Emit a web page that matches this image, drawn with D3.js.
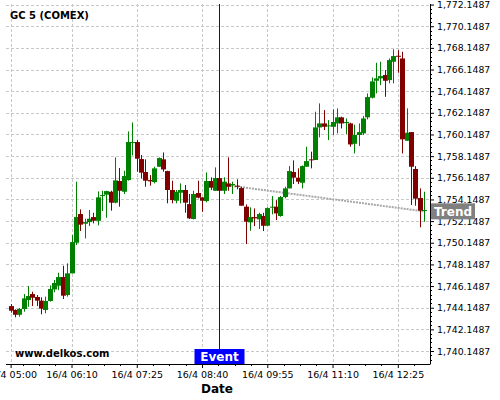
<!DOCTYPE html>
<html><head><meta charset="utf-8">
<script src="https://cdn.jsdelivr.net/npm/d3@7"></script>
<style>body{margin:0;background:#fff}svg{display:block;font-family:"DejaVu Sans",sans-serif}</style>
</head><body><svg id="c" width="500" height="400"></svg>
<script>
const chartTitle = "GC 5 (COMEX)";
const watermark = "www.delkos.com";
const xAxisTitle = "Date";
const startTime = [2024, 3, 16, 5, 0];
const intervalMinutes = 5;
const opens = [1744.30,1743.94,1743.50,1744.03,1744.86,1745.41,1745.14,1744.80,1743.94,1744.77,
1745.84,1746.18,1746.98,1745.32,1747.32,1750.15,1752.80,1751.91,1752.06,1752.52,
1752.18,1754.46,1754.59,1754.86,1753.85,1755.85,1754.86,1755.94,1759.39,1759.45,
1757.88,1756.68,1755.94,1755.75,1757.17,1757.85,1756.77,1755.02,1754.03,1754.77,
1755.02,1753.72,1752.34,1754.74,1754.34,1754.00,1755.85,1754.95,1756.12,1754.95,
1755.63,1755.45,1755.42,1755.20,1753.48,1752.03,1752.52,1752.31,1752.62,1751.72,
1753.42,1753.48,1752.62,1754.37,1755.17,1756.68,1756.16,1755.69,1757.17,1757.85,
1757.79,1760.80,1761.17,1760.93,1760.86,1761.17,1761.73,1761.20,1761.17,1759.29,
1760.10,1760.25,1761.73,1763.54,1765.11,1765.33,1765.64,1765.17,1766.87,1767.42,
1767.17,1759.57,1760.37,1756.96,1754.28,1753.11];
const highs = [1744.49,1744.00,1744.12,1745.41,1746.15,1745.63,1745.32,1745.11,1745.17,1746.21,
1746.71,1747.38,1748.03,1748.25,1750.86,1755.79,1753.23,1752.37,1753.17,1752.92,
1754.89,1754.95,1754.95,1754.95,1758.03,1757.05,1756.80,1760.43,1761.26,1759.63,
1758.25,1757.85,1756.40,1757.17,1758.03,1758.49,1756.80,1755.88,1755.02,1755.63,
1755.48,1754.65,1754.95,1755.88,1754.34,1756.65,1756.19,1757.11,1756.30,1756.19,
1758.03,1755.79,1756.00,1755.32,1753.69,1753.42,1753.32,1752.92,1752.92,1753.42,
1754.46,1754.09,1754.46,1755.32,1757.23,1757.76,1757.02,1757.29,1759.02,1758.56,
1762.25,1763.02,1762.40,1761.48,1762.47,1762.56,1761.79,1761.63,1761.23,1761.05,
1761.17,1761.85,1763.94,1765.42,1766.77,1766.87,1766.10,1767.17,1768.01,1767.94,
1767.79,1762.56,1760.37,1757.23,1755.17,1754.86];
const lows = [1743.69,1743.26,1743.32,1743.78,1744.24,1744.30,1744.30,1743.54,1743.63,1744.71,
1745.57,1745.78,1744.95,1745.17,1747.32,1749.94,1751.23,1750.55,1751.69,1751.94,
1751.75,1753.08,1752.46,1753.11,1753.79,1753.48,1754.65,1755.88,1758.22,1756.71,
1756.09,1755.32,1755.42,1755.63,1757.17,1756.71,1753.79,1753.79,1753.79,1753.79,
1752.92,1752.34,1752.31,1754.25,1753.01,1753.88,1755.02,1754.95,1754.70,1754.65,
1754.95,1754.65,1755.08,1753.57,1750.03,1751.26,1751.69,1751.42,1751.23,1751.69,
1752.77,1752.25,1752.55,1754.25,1755.17,1755.57,1755.57,1755.17,1757.17,1757.02,
1757.79,1759.88,1760.56,1759.63,1760.10,1760.25,1760.71,1760.19,1759.02,1758.40,
1759.08,1760.10,1761.54,1763.48,1763.94,1764.71,1763.63,1764.87,1764.87,1765.85,
1758.40,1759.57,1753.63,1753.57,1751.57,1752.09];
const closes = [1743.87,1743.50,1744.03,1745.01,1745.23,1745.07,1744.80,1744.06,1744.77,1745.88,
1746.43,1746.98,1745.26,1747.32,1750.21,1752.52,1751.82,1752.06,1752.37,1752.18,
1754.34,1754.55,1754.92,1753.85,1755.91,1754.95,1756.31,1759.45,1759.45,1757.91,
1756.62,1755.88,1755.82,1757.02,1757.97,1756.92,1755.02,1754.09,1754.86,1755.02,
1753.85,1752.40,1754.65,1754.31,1754.03,1755.85,1755.23,1756.12,1754.95,1755.79,
1755.32,1755.57,1755.32,1753.57,1752.09,1752.52,1752.40,1752.80,1751.72,1753.35,
1753.48,1752.86,1754.37,1755.17,1756.77,1756.16,1755.79,1757.23,1757.69,1757.79,
1760.80,1761.17,1760.86,1760.99,1761.30,1761.73,1761.17,1761.30,1759.23,1760.10,
1760.37,1761.63,1763.60,1765.05,1765.33,1765.54,1765.11,1767.02,1767.39,1767.36,
1759.70,1760.31,1757.17,1754.22,1753.11,1753.17];
const yTickValues = [1740.1487,1742.1487,1744.1487,1746.1487,1748.1487,1750.1487,1752.1487,1754.1487,
1756.1487,1758.1487,1760.1487,1762.1487,1764.1487,1766.1487,1768.1487,1770.1487,1772.1487];
const xTickTimes = ["05:00","06:10","07:25","08:40","09:55","11:10","12:25"];
const eventTime = "09:00";
const eventLabel = "Event";
const trendTimes = ["09:10","12:55"];
const trendValues = [1755.45, 1753.05];
const trendLabel = "Trend";

const svg = d3.select("#c");
const t0 = new Date(...startTime);
const at = (hm) => { const [h,m] = hm.split(":").map(Number); return new Date(2024,3,16,h,m); };
const candles = opens.map((o,i)=>({t:new Date(t0.getTime()+i*intervalMinutes*60000),o,h:highs[i],l:lows[i],c:closes[i]}));

const x = d3.scaleTime()
  .domain([new Date(t0.getTime()-5.3*60000), new Date(t0.getTime()+482*60000)])
  .range([6,430]);
const y = d3.scaleLinear().domain([1738.95,1772.2]).range([364,4]);

// grid
const g = svg.append("g");
g.selectAll("line.hg").data(yTickValues).join("line")
  .attr("x1",6).attr("x2",430).attr("y1",d=>Math.round(y(d))+0.5).attr("y2",d=>Math.round(y(d))+0.5)
  .attr("stroke","#c8c8c8").attr("stroke-dasharray","3,2");
g.selectAll("line.vg").data(xTickTimes).join("line")
  .attr("x1",d=>Math.round(x(at(d)))+0.5).attr("x2",d=>Math.round(x(at(d)))+0.5).attr("y1",4).attr("y2",364)
  .attr("stroke","#c8c8c8").attr("stroke-dasharray","3,2");

// trend line
svg.append("line")
  .attr("x1",x(at(trendTimes[0]))).attr("y1",y(trendValues[0]))
  .attr("x2",x(at(trendTimes[1]))).attr("y2",y(trendValues[1]))
  .attr("stroke","#a8a8a8").attr("stroke-width",2).attr("stroke-dasharray","2,1");

// candles
const up = "#008000", down = "#800000";
const cg = svg.append("g");
cg.selectAll("line.w").data(candles).join("line")
  .attr("x1",d=>Math.round(x(d.t))+0.5).attr("x2",d=>Math.round(x(d.t))+0.5)
  .attr("y1",d=>y(d.h)).attr("y2",d=>y(d.l))
  .attr("stroke",d=>d.c>=d.o?up:down);
cg.selectAll("rect").data(candles).join("rect")
  .attr("x",d=>Math.round(x(d.t))-2).attr("width",5)
  .attr("y",d=>y(Math.max(d.o,d.c))).attr("height",d=>Math.max(1,y(Math.min(d.o,d.c))-y(Math.max(d.o,d.c))))
  .attr("fill",d=>d.c>=d.o?up:down);

// event line
const ex = Math.round(x(at(eventTime)))+0.5;
svg.append("line").attr("x1",ex).attr("x2",ex).attr("y1",4).attr("y2",364).attr("stroke","#0000ff");

// minor ticks
const yMinor = d3.range(1738.9487+0.4, 1772.2, 0.4).filter(v=>!yTickValues.some(t=>Math.abs(t-v)<0.01));
svg.append("g").selectAll("line").data(yMinor).join("line")
  .attr("x1",430).attr("x2",432).attr("y1",d=>Math.round(y(d))+0.5).attr("y2",d=>Math.round(y(d))+0.5)
  .attr("stroke","#000");
const base = at(xTickTimes[1]).getTime();
const xMinor = d3.range(-3, 22).map(k=>new Date(base + k*18.75*60000))
  .filter(d=>d>=x.domain()[0] && d<=x.domain()[1])
  .filter(d=>!xTickTimes.some(t=>Math.abs(at(t)-d)<60000*2));
svg.append("g").selectAll("line").data(xMinor).join("line")
  .attr("x1",d=>Math.round(x(d))+0.5).attr("x2",d=>Math.round(x(d))+0.5).attr("y1",364).attr("y2",366)
  .attr("stroke","#000");

// axes
const yAxis = d3.axisRight(y).tickValues(yTickValues).tickSize(4).tickPadding(3)
  .tickFormat(d3.format(",.4f"));
const ya = svg.append("g").attr("transform","translate(430,0)").call(yAxis);
ya.select(".domain").attr("d","M0.5,4V364.5");
ya.selectAll("text").attr("font-size",9.3).attr("font-family","DejaVu Sans").attr("fill","#000");

const xAxis = d3.axisBottom(x).tickValues(xTickTimes.map(at)).tickSize(4).tickPadding(3)
  .tickFormat(d3.timeFormat("%-d/%-m %H:%M"));
const xa = svg.append("g").attr("transform","translate(0,364)").call(xAxis);
xa.select(".domain").attr("d","M6,0.5H430");
xa.selectAll("text").attr("font-size",9.5).attr("font-family","DejaVu Sans").attr("fill","#000");

// texts
svg.append("text").attr("x",10).attr("y",19).attr("font-size",10).attr("font-weight","bold").text(chartTitle);
svg.append("text").attr("x",15).attr("y",357).attr("font-size",10).attr("font-weight","bold").text(watermark);
svg.append("text").attr("x",217).attr("y",393).attr("text-anchor","middle").attr("font-size",12).attr("font-weight","bold").text(xAxisTitle);

// event label
svg.append("rect").attr("x",ex-25).attr("y",349).attr("width",50).attr("height",15).attr("fill","#0000ff");
svg.append("text").attr("x",ex).attr("y",361).attr("text-anchor","middle").attr("font-size",12).attr("font-weight","bold").attr("fill","#fff").text(eventLabel);

// trend label
const ty = y(trendValues[1]);
svg.append("rect").attr("x",431).attr("y",ty-8).attr("width",44).attr("height",16).attr("fill","#808080");
svg.append("text").attr("x",453).attr("y",ty+5).attr("text-anchor","middle").attr("font-size",12).attr("font-weight","bold").attr("fill","#fff").text(trendLabel);
</script></body></html>
